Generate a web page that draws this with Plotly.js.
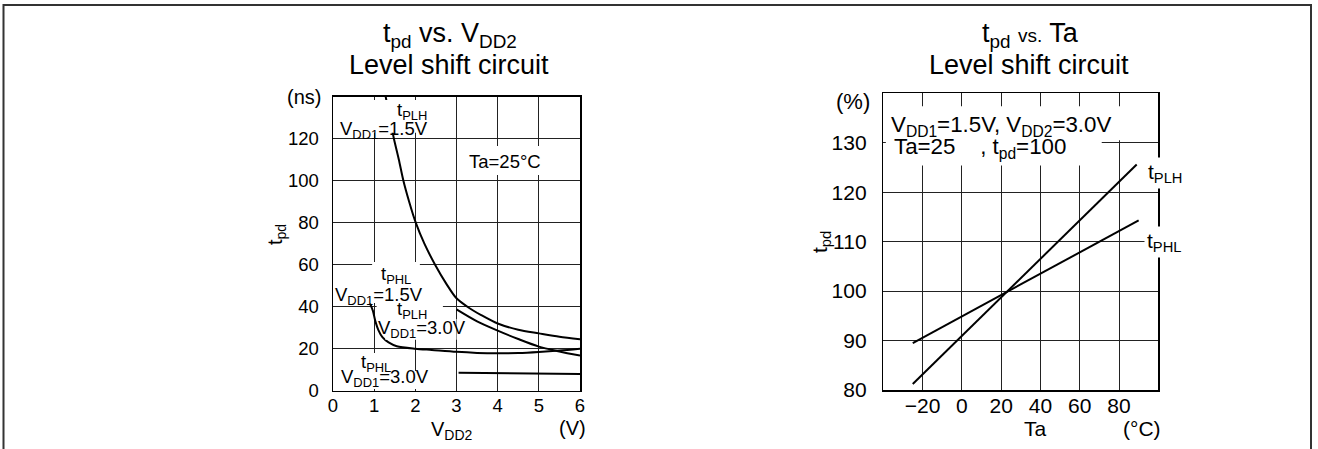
<!DOCTYPE html>
<html>
<head>
<meta charset="utf-8">
<script src="https://cdn.plot.ly/plotly-3.0.1.min.js"></script>
<style>
html,body{margin:0;padding:0;background:#fff;}
#chart{width:1318px;height:449px;}
</style>
</head>
<body>
<div id="chart"></div>
<script>
// ---- Left chart: tpd vs VDD2 (ns) ----
const vdd2_plh15 = [1.28,1.38,1.48,1.6,1.71,1.85,2.01,2.22,2.48,2.75,3.0,3.3,3.6,4.0,4.5,5.0,5.5,6.0];
const tpd_plh15  = [140,130,120,110,100,90,80,70,60,51,44,39.5,36,32,29,27.3,25.7,24.5];
const vdd2_plh30 = [3.0,3.5,4.0,4.5,5.0,5.5,6.0];
const tpd_plh30  = [38.7,33,28.6,24.6,21,18.7,16.7];
const vdd2_phl15 = [0.9,0.97,1.03,1.1,1.2,1.35,1.55,2.0,2.4,3.0,3.5,4.0,4.5,5.0,5.5,6.0];
const tpd_phl15  = [41.5,38,33,29,25.5,23,21.2,20.0,19.4,18.5,18.0,17.8,17.9,18.4,19.1,20];
const vdd2_phl30 = [3.05,6.0];
const tpd_phl30  = [8.6,8.0];
const leftXTicks = [0,1,2,3,4,5,6];
const leftYTicks = [0,20,40,60,80,100,120];

// ---- Right chart: tpd vs Ta (%) ----
const ta_plh = [-25,89];
const pct_plh = [81.2,125.6];
const ta_phl = [-25,90];
const pct_phl = [89.5,114.3];
const rightXTicks = [-20,0,20,40,60,80];
const rightYTicks = [80,90,100,110,120,130];

const FONT = "Liberation Sans, Arial, Helvetica, sans-serif";
const W = 1318, H = 449;
const px = v => v / W;
const py = v => 1 - v / H;

const lineStyle = {color:'#000', width:2};
const curve = Object.assign({shape:'spline', smoothing:0.8}, lineStyle);
const traces = [
  {x:vdd2_plh15, y:tpd_plh15, mode:'lines', line:curve, xaxis:'x', yaxis:'y', hoverinfo:'skip'},
  {x:vdd2_plh30, y:tpd_plh30, mode:'lines', line:curve, xaxis:'x', yaxis:'y', hoverinfo:'skip'},
  {x:vdd2_phl15, y:tpd_phl15, mode:'lines', line:curve, xaxis:'x', yaxis:'y', hoverinfo:'skip'},
  {x:vdd2_phl30, y:tpd_phl30, mode:'lines', line:lineStyle, xaxis:'x', yaxis:'y', hoverinfo:'skip'},
  {x:ta_plh, y:pct_plh, mode:'lines', line:lineStyle, xaxis:'x2', yaxis:'y2', hoverinfo:'skip'},
  {x:ta_phl, y:pct_phl, mode:'lines', line:lineStyle, xaxis:'x2', yaxis:'y2', hoverinfo:'skip'}
];

const axBase = {
  showline:true, mirror:true, linecolor:'#000', linewidth:1.5,
  showgrid:true, gridcolor:'#222', gridwidth:1,
  zeroline:false, ticks:'', fixedrange:true
};

const lfs = 18.5, rfs = 21, tfs = 27, nfs = 22.3;

function lab(text, x, y, xr, yr, size, extra){
  return Object.assign({text:text, x:x, y:y, xref:xr, yref:yr, showarrow:false,
    font:{family:FONT, size:size, color:'#000'}, xanchor:'center', yanchor:'middle'}, extra||{});
}

const annotations = [
  // titles
  lab('t<sub>pd</sub> vs. V<sub>DD2</sub>', px(450), py(35), 'paper','paper', tfs),
  lab('Level shift circuit', px(449), py(65), 'paper','paper', tfs),
  lab('t<sub>pd</sub> <span style="font-size:19px">vs.</span> Ta', px(1030), py(35), 'paper','paper', tfs),
  lab('Level shift circuit', px(1029), py(65), 'paper','paper', tfs),
  // left axis labels
  lab('(ns)', px(304), py(97), 'paper','paper', 20),
  lab('t<sub>pd</sub>', px(276), py(235), 'paper','paper', 20, {textangle:-90}),
  lab('V<sub>DD2</sub>', px(452), py(430), 'paper','paper', 20),
  lab('(V)', px(572), py(428), 'paper','paper', 20),
  // right axis labels
  lab('(%)', px(853), py(102), 'paper','paper', 22),
  lab('t<sub>pd</sub>', px(821), py(242), 'paper','paper', 21, {textangle:-90}),
  lab('Ta', px(1035), py(428), 'paper','paper', 21),
  lab('(°C)', px(1142), py(428), 'paper','paper', 21),
  // left in-plot labels
  lab('t<sub>PLH</sub>', 1.92, 133.0, 'x','y', lfs),
  lab('V<sub>DD1</sub>=1.5V', 1.24, 124.3, 'x','y', lfs),
  lab('Ta=25°C', 4.18, 109, 'x','y', lfs),
  lab('t<sub>PHL</sub>', 1.53, 55.0, 'x','y', lfs),
  lab('V<sub>DD1</sub>=1.5V', 1.12, 45.3, 'x','y', lfs),
  lab('t<sub>PLH</sub>', 1.92, 38.4, 'x','y', lfs),
  lab('V<sub>DD1</sub>=3.0V', 2.16, 29.6, 'x','y', lfs),
  lab('t<sub>PHL</sub>', 1.04, 13.2, 'x','y', lfs),
  lab('V<sub>DD1</sub>=3.0V', 1.26, 5.9, 'x','y', lfs),
  // right in-plot labels
  lab('V<sub>DD1</sub>=1.5V, V<sub>DD2</sub>=3.0V', -37.0, 133.3, 'x2','y2', nfs, {xanchor:'left'}),
  lab('Ta=25    , t<sub>pd</sub>=100', -35.6, 128.9, 'x2','y2', nfs, {xanchor:'left'}),
  lab('t<sub>PLH</sub>', 93, 123.8, 'x2','y2', rfs, {xanchor:'left', bgcolor:'#fff', borderpad:2}),
  lab('t<sub>PHL</sub>', 92.5, 110, 'x2','y2', rfs, {xanchor:'left', bgcolor:'#fff', borderpad:2})
];

function wbox(xr, yr, x0, x1, y0, y1){
  return {type:'rect', xref:xr, yref:yr, x0:x0, x1:x1, y0:y0, y1:y1,
    fillcolor:'#fff', line:{width:0}, layer:'above'};
}

const shapes = [
  // outer frame (open at bottom)
  {type:'path', xref:'paper', yref:'paper',
   path:'M ' + px(3.5) + ',-0.1 L ' + px(3.5) + ',' + py(5) + ' L ' + px(1311) + ',' + py(5) + ' L ' + px(1311) + ',-0.1',
   line:{color:'#333', width:2}},
  // white label backgrounds, left chart
  wbox('x','y', 0.04, 2.36, 122.8, 138.4),
  wbox('x','y', 3.21, 5.15, 102.7, 116.5),
  wbox('x','y', 0.95, 2.11, 50.8, 61.3),
  wbox('x','y', 0.04, 2.24, 41.8, 50.8),
  wbox('x','y', 1.06, 2.67, 34.1, 43.7),
  wbox('x','y', 1.27, 3.0, 24.3, 34.1),
  wbox('x','y', 0.6, 1.48, 9.4, 17.9),
  wbox('x','y', 0.04, 2.4, 0.8, 9.4),
  // white boxes behind the right chart note
  wbox('x2','y2', -38.7, 82.4, 130.5, 137.4),
  wbox('x2','y2', -38.7, 71.2, 125.4, 130.6)
];

const layout = {
  width:W, height:H,
  margin:{l:0, r:0, t:0, b:0},
  paper_bgcolor:'#fff', plot_bgcolor:'#fff',
  showlegend:false,
  font:{family:FONT, color:'#000'},
  xaxis:Object.assign({}, axBase, {domain:[px(333), px(580)], range:[0,6], tickvals:leftXTicks,
    tickfont:{family:FONT, size:lfs, color:'#000'}, anchor:'y', ticklabelstandoff:-2}),
  yaxis:Object.assign({}, axBase, {domain:[py(390.7), py(96.7)], range:[0,140], tickvals:leftYTicks,
    tickfont:{family:FONT, size:lfs, color:'#000'}, anchor:'x', ticklabelstandoff:9}),
  xaxis2:Object.assign({}, axBase, {domain:[px(883.3), px(1158.3)], range:[-40,100], tickvals:rightXTicks,
    tickfont:{family:FONT, size:rfs, color:'#000'}, anchor:'y2', ticklabelstandoff:-4}),
  yaxis2:Object.assign({}, axBase, {domain:[py(390), py(93.3)], range:[80,140], tickvals:rightYTicks,
    tickfont:{family:FONT, size:rfs, color:'#000'}, anchor:'x2', ticklabelstandoff:11}),
  annotations:annotations,
  shapes:shapes
};

Plotly.newPlot('chart', traces, layout, {staticPlot:true, displayModeBar:false});
</script>
</body>
</html>
